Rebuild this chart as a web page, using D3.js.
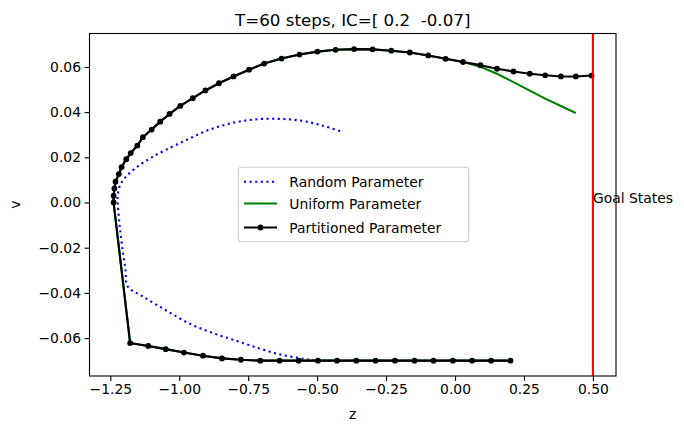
<!DOCTYPE html>
<html>
<head>
<meta charset="utf-8">
<script src="https://cdn.jsdelivr.net/npm/d3@7/dist/d3.min.js"></script>
<style>
  html, body { margin: 0; padding: 0; background: #fff; }
  svg { display: block; font-family: "DejaVu Sans", sans-serif; }
</style>
</head>
<body>
<svg id="chart" width="684" height="427"></svg>
<script>
// Phase-plane trajectories (position z, velocity v) for three parameter choices.
const titleText = "T=60 steps, IC=[ 0.2  -0.07]";
const seriesNames = ["Random Parameter", "Uniform Parameter", "Partitioned Parameter"];
const goalZ = 0.5;
const goalLabel = "Goal States";

const xTicks = [-1.25, -1.00, -0.75, -0.50, -0.25, 0.00, 0.25, 0.50];
const yTicks = [-0.06, -0.04, -0.02, 0.00, 0.02, 0.04, 0.06];

// Partitioned parameter: one point per step
const partZ = [0.201, 0.131, 0.062, -0.008, -0.078, -0.147, -0.218, -0.288, -0.358, -0.428,
  -0.497, -0.567, -0.636, -0.706, -0.7765, -0.845, -0.914, -0.983, -1.049, -1.1125, -1.178,
  -1.238, -1.238, -1.235, -1.231, -1.219, -1.209, -1.192, -1.176, -1.152, -1.132, -1.100,
  -1.069, -1.035, -0.996, -0.951, -0.905, -0.856, -0.803, -0.747, -0.692, -0.629, -0.564,
  -0.499, -0.433, -0.366, -0.299, -0.231, -0.164, -0.097, -0.034, 0.029, 0.092, 0.152,
  0.212, 0.271, 0.327, 0.384, 0.438, 0.495];
const partV = [-0.0700, -0.0700, -0.0700, -0.0700, -0.0700, -0.0700, -0.0700, -0.0700, -0.0700, -0.0700,
  -0.0700, -0.0700, -0.0700, -0.0700, -0.0696, -0.0690, -0.0678, -0.0664, -0.0649, -0.0635, -0.0622,
  0.0000, 0.0030, 0.0062, 0.0092, 0.0126, 0.0157, 0.0192, 0.0219, 0.0252, 0.0289, 0.0323,
  0.0358, 0.0392, 0.0428, 0.0462, 0.0496, 0.0528, 0.0558, 0.0588, 0.0615, 0.0637, 0.0655,
  0.0668, 0.0676, 0.0679, 0.0678, 0.0672, 0.0664, 0.0651, 0.0636, 0.0622, 0.0608, 0.0592,
  0.0580, 0.0570, 0.0563, 0.0558, 0.0558, 0.0562];

// Uniform parameter: shares the partitioned path until z ≈ 0.03, then drops off
const uniZ = partZ.slice(0, 52).concat([0.092, 0.152, 0.212, 0.271, 0.327, 0.384, 0.438]);
const uniV = partV.slice(0, 52).concat([0.0601, 0.0570, 0.0533, 0.0495, 0.0460, 0.0427, 0.0396]);

// Random parameter
const randZ = [0.201, -0.430, -0.515, -0.563, -0.636, -0.709, -0.793, -0.878, -0.963, -1.047,
  -1.132, -1.187, -1.195, -1.207, -1.217, -1.223, -1.223, -1.214, -1.190, -1.150, -1.100, -1.047,
  -0.975, -0.900, -0.815, -0.725, -0.636, -0.552, -0.479, -0.406];
const randV = [-0.0700, -0.0700, -0.0697, -0.0689, -0.0672, -0.0646, -0.0612, -0.0578, -0.0536, -0.0478,
  -0.0416, -0.0372, -0.0298, -0.0195, -0.0091, -0.0003, 0.0034, 0.0078, 0.0118, 0.0160, 0.0200, 0.0234,
  0.0276, 0.0318, 0.0350, 0.0368, 0.0370, 0.0361, 0.0340, 0.0312];

const pts = (zs, vs) => zs.map((z, i) => [z, vs[i]]);
const randomPts = pts(randZ, randV);
const uniformPts = pts(uniZ, uniV);
const partPts = pts(partZ, partV);

const svg = d3.select("#chart");
const L = 89.5, R = 616, T = 33.5, B = 376;

const x = d3.scaleLinear().domain([-1.3254, 0.5837]).range([L, R]);
const y = d3.scaleLinear().domain([-0.07679, 0.07481]).range([B, T]);

const line = d3.line().x(d => x(d[0])).y(d => y(d[1]));
const smooth = d3.line().x(d => x(d[0])).y(d => y(d[1])).curve(d3.curveCatmullRom.alpha(0.5));

const plot = svg.append("g");
plot.append("clipPath").attr("id", "clip")
  .append("rect").attr("x", L).attr("y", T).attr("width", R - L).attr("height", B - T);
const inner = plot.append("g").attr("clip-path", "url(#clip)");

inner.append("path").datum(randomPts)
  .attr("d", smooth).attr("fill", "none")
  .attr("stroke", "#0000ff").attr("stroke-width", 2.1)
  .attr("stroke-dasharray", "2.1,3.5");

inner.append("path").datum(uniformPts)
  .attr("d", line).attr("fill", "none")
  .attr("stroke", "#008000").attr("stroke-width", 2.1)
  .attr("stroke-linejoin", "round");

inner.append("path").datum(partPts)
  .attr("d", line).attr("fill", "none")
  .attr("stroke", "#000").attr("stroke-width", 2.1)
  .attr("stroke-linejoin", "round");

inner.selectAll("circle.pm").data(partPts).enter().append("circle")
  .attr("class", "pm")
  .attr("cx", d => x(d[0])).attr("cy", d => y(d[1]))
  .attr("r", 2.9).attr("fill", "#000");

// goal line
inner.append("line")
  .attr("x1", x(goalZ)).attr("x2", x(goalZ))
  .attr("y1", T).attr("y2", B)
  .attr("stroke", "#ff0000").attr("stroke-width", 2.1);

svg.append("text")
  .attr("x", x(goalZ)).attr("y", y(0))
  .attr("font-size", "13.9px").attr("fill", "#000")
  .text(goalLabel);

// axes
const xAxis = d3.axisBottom(x).tickValues(xTicks).tickFormat(d3.format(".2f"))
  .tickSizeInner(4.9).tickSizeOuter(0).tickPadding(3.6);
const yAxis = d3.axisLeft(y).tickValues(yTicks).tickFormat(d3.format(".2f"))
  .tickSizeInner(4.9).tickSizeOuter(0).tickPadding(3.6);

const gx = svg.append("g").attr("transform", `translate(0,${B})`).call(xAxis);
const gy = svg.append("g").attr("transform", `translate(${L},0)`).call(yAxis);
[gx, gy].forEach(g => {
  g.select(".domain").remove();
  g.selectAll(".tick line").attr("stroke", "#000").attr("stroke-width", 1.1);
  g.selectAll(".tick text").attr("font-size", "13.9px").attr("fill", "#000")
    .attr("font-family", "DejaVu Sans");
});

// frame
svg.append("rect")
  .attr("x", L).attr("y", T).attr("width", R - L).attr("height", B - T)
  .attr("fill", "none").attr("stroke", "#000").attr("stroke-width", 1.1);

// labels
svg.append("text")
  .attr("x", (L + R) / 2).attr("y", 25.5)
  .attr("text-anchor", "middle").attr("font-size", "16.7px")
  .style("white-space", "pre").attr("xml:space", "preserve")
  .text(titleText);

svg.append("text")
  .attr("x", (L + R) / 2).attr("y", 419)
  .attr("text-anchor", "middle").attr("font-size", "13.9px")
  .text("z");

svg.append("text")
  .attr("transform", `translate(19.5,${(T + B) / 2}) rotate(-90)`)
  .attr("text-anchor", "middle").attr("font-size", "13.9px")
  .text("v");

// legend
const leg = svg.append("g");
leg.append("rect")
  .attr("x", 238.3).attr("y", 167.3).attr("width", 230.4).attr("height", 74.4)
  .attr("rx", 3).attr("ry", 3)
  .attr("fill", "#fff").attr("fill-opacity", 0.8)
  .attr("stroke", "#cccccc").attr("stroke-width", 1.1);

const rowsY = [181.7, 203.5, 227.5];
const styles = [
  { stroke: "#0000ff", dash: "2.1,3.5", marker: false },
  { stroke: "#008000", dash: null, marker: false },
  { stroke: "#000", dash: null, marker: true }
];
seriesNames.forEach((name, i) => {
  const g = leg.append("g");
  const ln = g.append("line")
    .attr("x1", 244).attr("x2", 277)
    .attr("y1", rowsY[i]).attr("y2", rowsY[i])
    .attr("stroke", styles[i].stroke).attr("stroke-width", 2.1);
  if (styles[i].dash) ln.attr("stroke-dasharray", styles[i].dash);
  if (styles[i].marker) {
    g.append("circle").attr("cx", 260.5).attr("cy", rowsY[i]).attr("r", 2.9).attr("fill", "#000");
  }
  g.append("text")
    .attr("x", 289.3).attr("y", rowsY[i] + 5)
    .attr("font-size", "13.9px").attr("fill", "#000")
    .text(name);
});
</script>
</body>
</html>
